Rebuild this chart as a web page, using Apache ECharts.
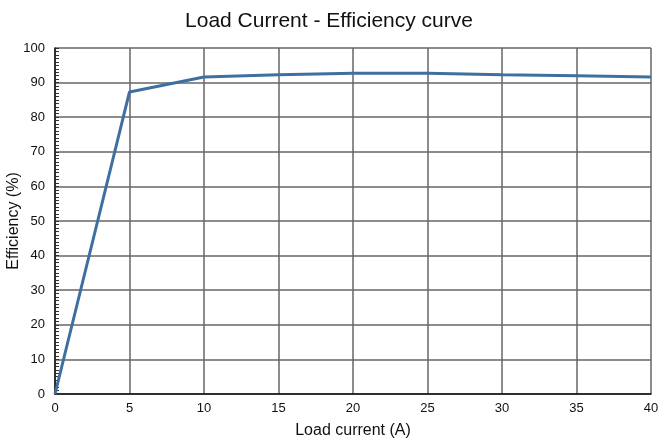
<!DOCTYPE html>
<html><head><meta charset="utf-8">
<script src="https://cdn.jsdelivr.net/npm/echarts@6/dist/echarts.min.js"></script>
<style>html,body{margin:0;padding:0;background:#fff}#c{width:658px;height:440px}</style>
</head><body><div id="c"></div>
<script>
const loadCurrent = [0, 5, 10, 15, 20, 25, 30, 35, 40];
const efficiency = [0, 87.3, 91.6, 92.3, 92.7, 92.7, 92.3, 92.0, 91.6];
const xTicks = [0, 5, 10, 15, 20, 25, 30, 35, 40];
const yTicks = [0, 10, 20, 30, 40, 50, 60, 70, 80, 90, 100];

const gridLeft = 55, gridRight = 7, W = 658;
const chart = echarts.init(document.getElementById('c'));
chart.setOption({
  animation: false,
  title: {
    text: 'Load Current - Efficiency curve',
    left: 'center', top: 6,
    textStyle: {fontFamily: 'Liberation Sans, Arial', fontSize: 21, fontWeight: 'normal', color: '#111'}
  },
  grid: {left: gridLeft, right: gridRight, top: 48, bottom: 46, outerBoundsMode: 'none', containLabel: false},
  xAxis: {
    type: 'value', min: 0, max: 40, interval: 5,
    name: 'Load current (A)', nameLocation: 'middle', nameGap: 29,
    nameTextStyle: {fontFamily: 'Liberation Sans, Arial', fontSize: 16, color: '#111'},
    axisLine: {show: true, lineStyle: {color: '#111', width: 1.5}},
    axisTick: {show: false},
    axisLabel: {fontFamily: 'Liberation Sans, Arial', fontSize: 13, color: '#111', margin: 8,
      formatter: v => xTicks.includes(v) ? String(v) : ''},
    splitLine: {show: true, lineStyle: {color: '#666', width: 1.5}}
  },
  yAxis: [{
    type: 'value', min: 0, max: 100, interval: 10,
    name: 'Efficiency (%)', nameLocation: 'middle', nameGap: 33, nameMoveOverlap: false,
    nameTextStyle: {fontFamily: 'Liberation Sans, Arial', fontSize: 16, color: '#111'},
    axisLine: {show: true, lineStyle: {color: '#111', width: 1.5}},
    axisTick: {show: false},
    axisLabel: {fontFamily: 'Liberation Sans, Arial', fontSize: 13, color: '#111', margin: 10,
      formatter: v => yTicks.includes(v) ? String(v) : ''},
    splitLine: {show: true, lineStyle: {color: '#666', width: 1.5}}
  }, {
    type: 'value', min: 0, max: 100, interval: 10, position: 'right',
    offset: -(W - gridLeft - gridRight),
    axisLine: {show: false},
    axisLabel: {show: false},
    splitLine: {show: false},
    axisTick: {show: true, length: 4, lineStyle: {color: '#333', width: 1}},
    minorTick: {show: true, splitNumber: 10, length: 4, lineStyle: {color: '#333', width: 1}}
  }],
  series: [{
    type: 'line',
    data: loadCurrent.map((x, i) => [x, efficiency[i]]),
    symbol: 'none',
    lineStyle: {color: '#3f6f9f', width: 3}
  }]
});
</script></body></html>
